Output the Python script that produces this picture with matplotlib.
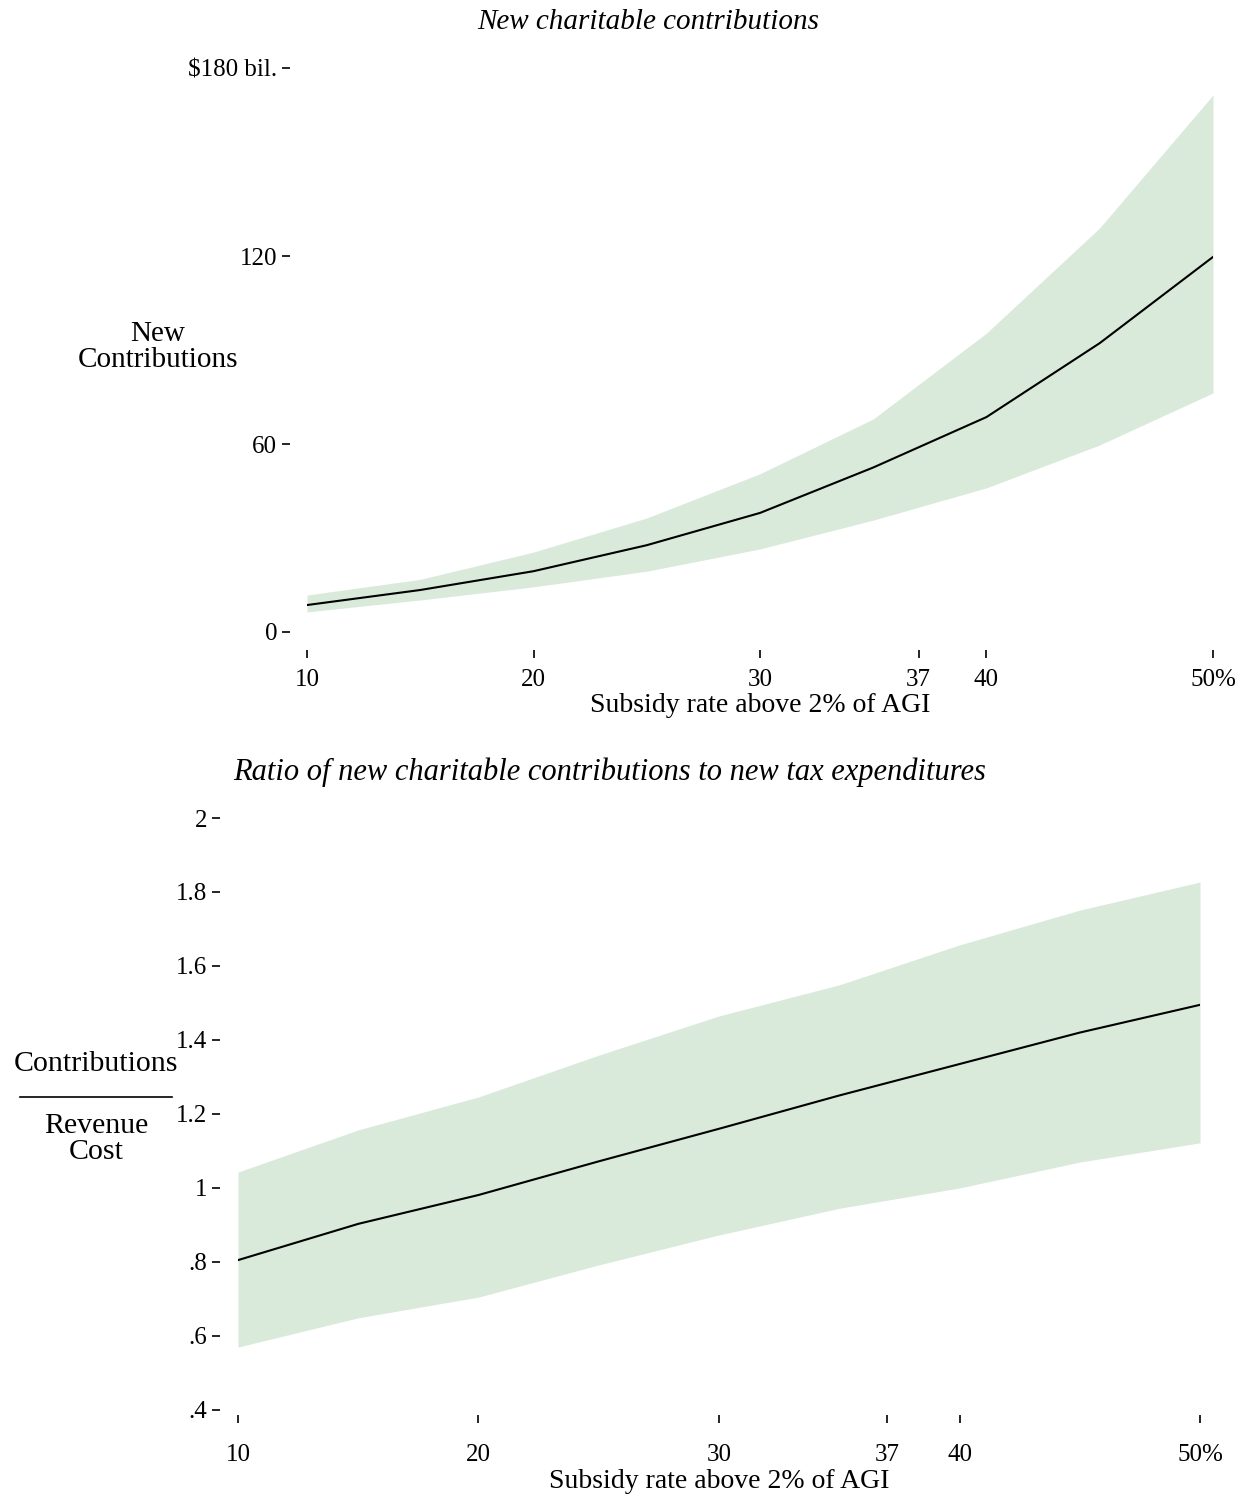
import matplotlib
matplotlib.use("Agg")
import matplotlib.pyplot as plt

plt.rcParams['font.family'] = ['Liberation Serif', 'DejaVu Serif']

# subsidy rates (%)
rates = [10, 15, 20, 25, 30, 35, 40, 45, 50]

# new charitable contributions ($ bil.)
contrib_mid = [8.6, 13.4, 19.4, 27.7, 38.0, 52.5, 68.6, 92.2, 119.7]
contrib_hi = [11.8, 16.8, 25.5, 36.4, 50.5, 68.0, 95.4, 129.0, 171.4]
contrib_lo = [6.4, 10.2, 14.4, 19.4, 26.5, 35.7, 46.0, 59.7, 76.3]

# ratio contributions / revenue cost
ratio_mid = [0.805, 0.903, 0.981, 1.072, 1.160, 1.250, 1.335, 1.420, 1.495]
ratio_hi = [1.043, 1.157, 1.246, 1.359, 1.465, 1.549, 1.657, 1.751, 1.827]
ratio_lo = [0.570, 0.649, 0.705, 0.792, 0.873, 0.945, 1.000, 1.070, 1.122]

xticks = [10, 20, 30, 37, 40, 50]
xticklabels = ['10', '20', '30', '37', '40', '50%']
top_yticks = [0, 60, 120, 180]
top_yticklabels = ['0', '60', '120', '$180 bil.']
bot_yticks = [0.4, 0.6, 0.8, 1.0, 1.2, 1.4, 1.6, 1.8, 2.0]
bot_yticklabels = ['.4', '.6', '.8', '1', '1.2', '1.4', '1.6', '1.8', '2']

band_color = '#d9eadb'
fs = 18
px = 72 / 100  # one pixel in points


def style_axes(ax, left_out, bottom_out, xpad):
    for side in ['top', 'right']:
        ax.spines[side].set_visible(False)
    ax.spines['left'].set_position(('outward', left_out * px))
    ax.spines['bottom'].set_position(('outward', bottom_out * px))
    for side in ['left', 'bottom']:
        ax.spines[side].set_color('none')
    ax.tick_params(axis='both', length=8 * px, width=1.2, labelsize=fs)
    ax.tick_params(axis='y', pad=5 * px)
    ax.tick_params(axis='x', pad=xpad * px)


fig = plt.figure(figsize=(12.46, 14.99), dpi=100)

# top panel
ax1 = fig.add_axes([0.2464, 0.5784, 0.7271, 0.3762])
ax1.fill_between(rates, contrib_lo, contrib_hi, color=band_color, lw=0)
ax1.plot(rates, contrib_mid, color='black', lw=1.5)
ax1.set_xlim(10, 50)
ax1.set_ylim(0, 180)
ax1.set_xticks(xticks)
ax1.set_xticklabels(xticklabels)
ax1.set_yticks(top_yticks)
ax1.set_yticklabels(top_yticklabels)
style_axes(ax1, 17, 18, 11)
ax1.set_xlabel('Subsidy rate above 2% of AGI', fontsize=20, labelpad=1.5)
fig.text(648 / 1246, 1 - 22 / 1499, 'New charitable contributions', fontsize=21,
         style='italic', ha='center', va='center')
fig.text(158 / 1246, 1 - 347 / 1499, 'New\nContributions', fontsize=21,
         ha='center', va='center', linespacing=1.0)

# bottom panel
ax2 = fig.add_axes([0.1910, 0.0594, 0.7721, 0.3949])
ax2.fill_between(rates, ratio_lo, ratio_hi, color=band_color, lw=0)
ax2.plot(rates, ratio_mid, color='black', lw=1.5)
ax2.set_xlim(10, 50)
ax2.set_ylim(0.4, 2.0)
ax2.set_xticks(xticks)
ax2.set_xticklabels(xticklabels)
ax2.set_yticks(bot_yticks)
ax2.set_yticklabels(bot_yticklabels)
style_axes(ax2, 18, 5, 21)
ax2.set_xlabel('Subsidy rate above 2% of AGI', fontsize=20, labelpad=2)
fig.text(610 / 1246, 1 - 772 / 1499,
         'Ratio of new charitable contributions to new tax expenditures',
         fontsize=22, style='italic', ha='center', va='center')
fig.text(96 / 1246, 1 - 1064 / 1499, 'Contributions', fontsize=21.5,
         ha='center', va='center')
fig.add_artist(plt.Line2D([20 / 1246, 172 / 1246], [1 - 1097 / 1499, 1 - 1097 / 1499],
                          color='black', lw=1.2))
fig.text(96 / 1246, 1 - 1139 / 1499, 'Revenue\nCost', fontsize=21.5,
         ha='center', va='center', linespacing=1.0)

fig.savefig('out.png', dpi=100)
